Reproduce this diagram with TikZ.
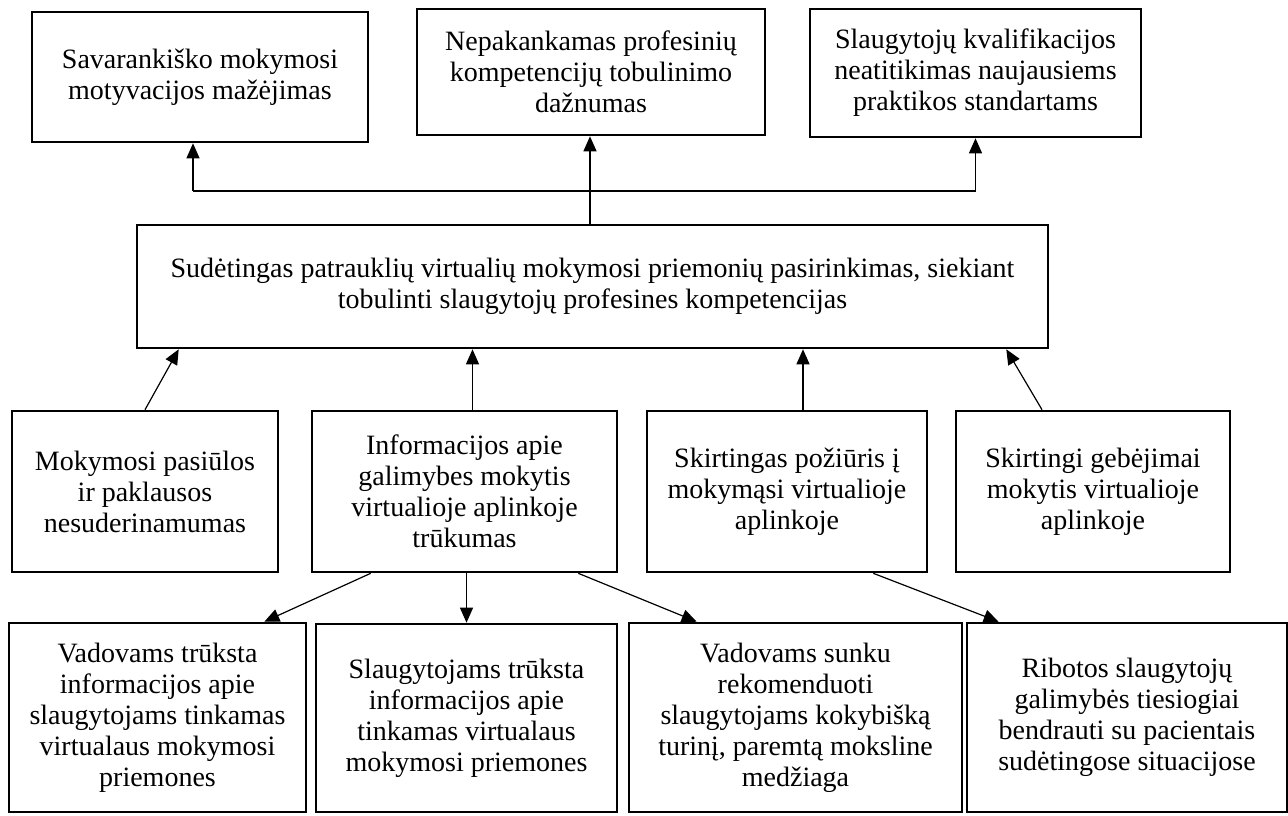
\documentclass[tikz,border=0pt]{standalone}
\usepackage{fontspec}
\setmainfont{Liberation Serif}
\usetikzlibrary{arrows.meta}

\begin{document}
\begin{tikzpicture}[
        x=1pt, y=-1pt,
        block/.style={rectangle, draw=black, line width=2.6pt, fill=white, align=center, inner sep=0pt, font=\fontsize{28pt}{31pt}\selectfont},
        line/.style={draw, -{Triangle[length=15pt, width=13pt]}, line width=1.2pt, black}
    ]

        \fill[white] (0, 0) rectangle (1288, 815);
        \useasboundingbox (0, 0) rectangle (1288, 815);

        % ================= PASEKMĖS (VIRŠUS) =================
        \node[block, minimum width=336pt, minimum height=130pt] (motyv) at (200, 77) {Savarankiško mokymosi\\motyvacijos mažėjimas};
        \node[block, minimum width=348pt, minimum height=126pt] (dazn) at (591, 72) {Nepakankamas profesinių\\kompetencijų tobulinimo\\dažnumas};
        \node[block, minimum width=331pt, minimum height=128pt] (kval) at (975.5, 73) {Slaugytojų kvalifikacijos\\neatitikimas naujausiems\\praktikos standartams};

        % ================= PAGRINDINĖ PROBLEMA =================
        \node[block, minimum width=911pt, minimum height=123pt] (problema) at (592.5, 286.5) {Sudėtingas patrauklių virtualių mokymosi priemonių pasirinkimas, siekiant\\tobulinti slaugytojų profesines kompetencijas};

        % Šakojimas į viršų
        \coordinate (hub) at (590, 191);
        \coordinate (kaire) at ([xshift=-7pt]hub -| motyv.south);
        \coordinate (desine) at (hub -| kval.south);
        \draw[line width=1.2pt] (kaire) -- (desine);
        \path[line] ([xshift=-1pt]problema.north -| dazn.south) -- ([xshift=-1pt]dazn.south);
        \path[line] (kaire) -- ([xshift=-7pt]motyv.south);
        \path[line] (desine) -- (kval.south);

        % ================= PRIEŽASTYS (VIDURYS) =================
        \node[block, minimum width=266pt, minimum height=161pt] (pasiula) at (145, 491.5) {Mokymosi pasiūlos\\ir paklausos\\nesuderinamumas};
        \node[block, minimum width=305pt, minimum height=161pt] (info) at (464.5, 491.5) {Informacijos apie\\galimybes mokytis\\virtualioje aplinkoje\\trūkumas};
        \node[block, minimum width=280pt, minimum height=161pt] (poziuris) at (787, 491.5) {Skirtingas požiūris į\\mokymąsi virtualioje\\aplinkoje};
        \node[block, minimum width=274pt, minimum height=161pt] (gebejimai) at (1093, 491.5) {Skirtingi gebėjimai\\mokytis virtualioje\\aplinkoje};

        \path[line] (pasiula.north) -- ([xshift=43pt]problema.south west);
        \path[line] ([xshift=8pt]info.north) -- ([xshift=8pt]info.north |- problema.south);
        \path[line] ([xshift=16pt]poziuris.north) -- ([xshift=16pt]poziuris.north |- problema.south);
        \path[line] ([xshift=-51pt]gebejimai.north) -- ([xshift=-43pt]problema.south east);

        % ================= GILESNĖS PRIEŽASTYS (APAČIA) =================
        \node[block, minimum width=297pt, minimum height=189pt] (vadinfo) at (157.5, 717.5) {Vadovams trūksta\\informacijos apie\\slaugytojams tinkamas\\virtualaus mokymosi\\priemones};
        \node[block, minimum width=301pt, minimum height=188pt] (slauginfo) at (466.5, 718) {Slaugytojams trūksta\\informacijos apie\\tinkamas virtualaus\\mokymosi priemones};
        \node[block, minimum width=333pt, minimum height=189pt] (turinys) at (795.5, 717.5) {Vadovams sunku\\rekomenduoti\\slaugytojams kokybišką\\turinį, paremtą moksline\\medžiaga};
        \node[block, minimum width=320pt, minimum height=189pt] (bendrav) at (1127, 717.5) {Ribotos slaugytojų\\galimybės tiesiogiai\\bendrauti su pacientais\\sudėtingose situacijose};

        \path[line] ([xshift=60pt]info.south west) -- ([xshift=-43pt]vadinfo.north east);
        \path[line] (slauginfo.north |- info.south) -- (slauginfo.north);
        \path[line] ([xshift=-40pt]info.south east) -- ([xshift=69pt]turinys.north west);
        \path[line] ([xshift=-55pt]poziuris.south east) -- ([xshift=33pt]bendrav.north west);

    \end{tikzpicture}
\end{document}
